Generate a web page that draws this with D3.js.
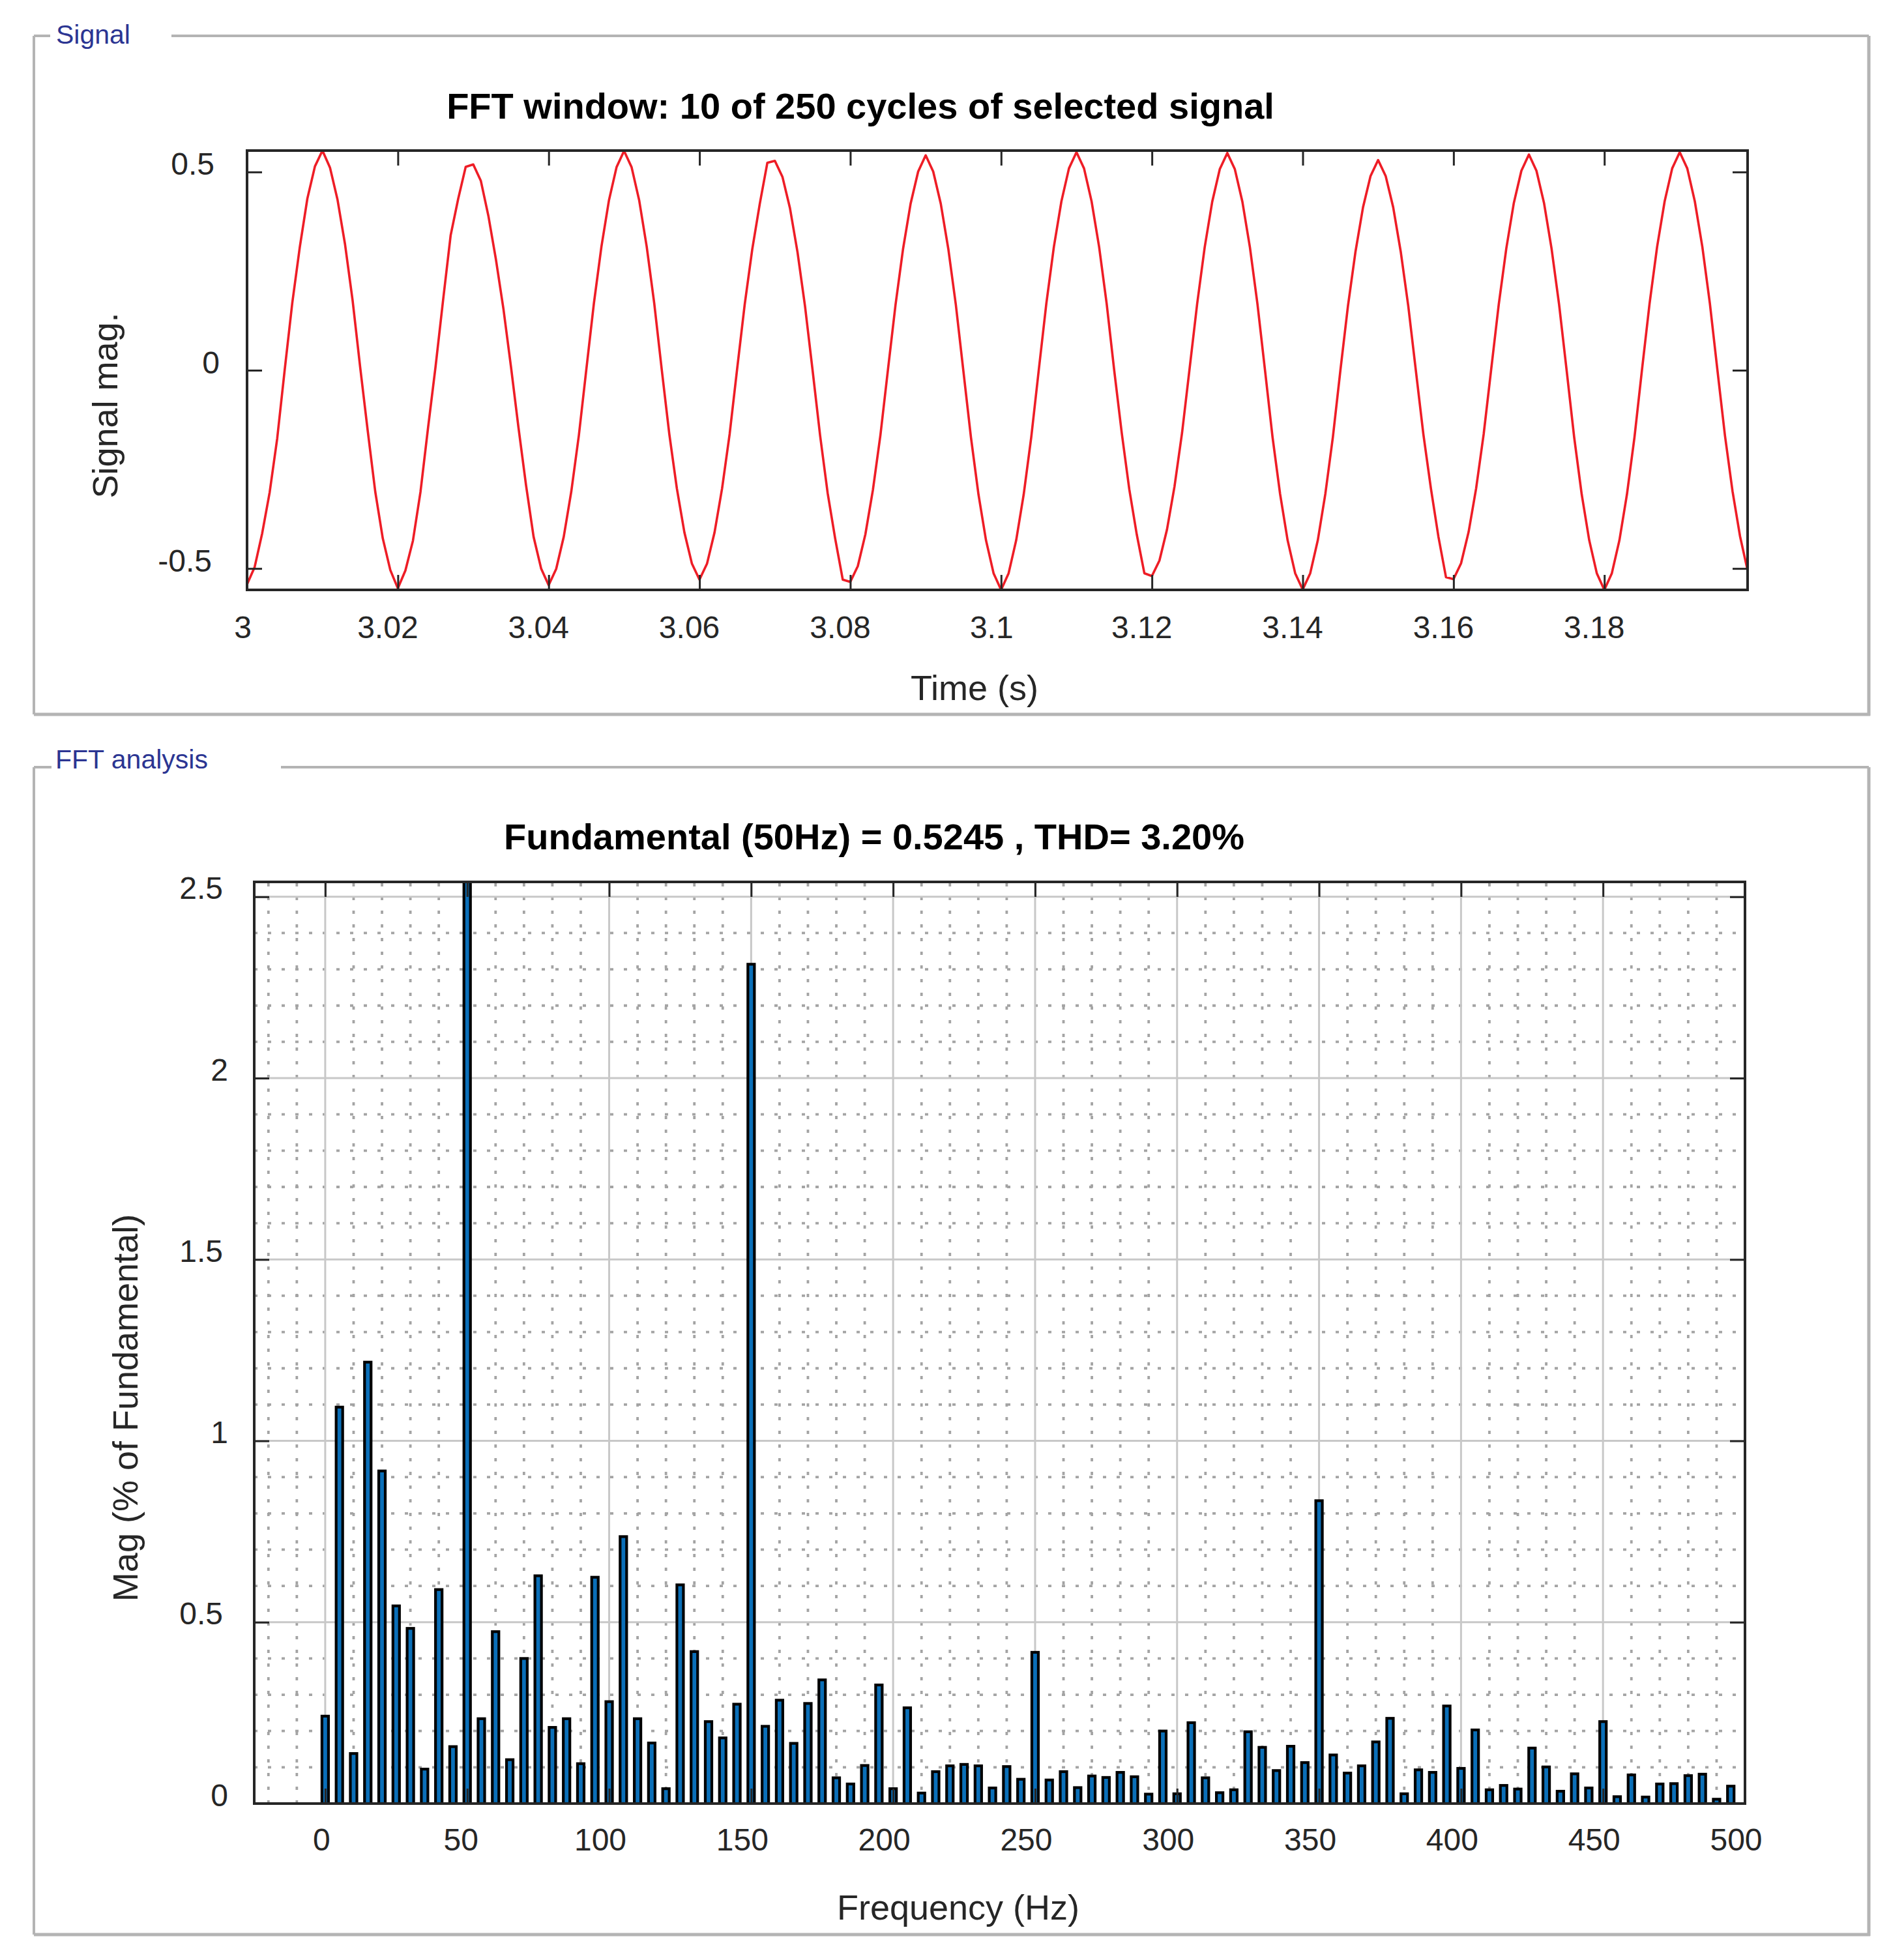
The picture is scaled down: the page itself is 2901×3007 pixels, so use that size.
<!DOCTYPE html>
<html><head><meta charset="utf-8">
<script src="https://cdn.jsdelivr.net/npm/d3@7"></script>
<style>
html,body{margin:0;padding:0;background:#fff;}
svg{display:block;}
text{font-family:"Liberation Sans",Arial,Helvetica,sans-serif;}
</style>
</head><body>
<svg id="chart" width="2901" height="3007"></svg>
<script>
// ---------------- DATA ----------------
const signalStartTime = 3.0;     // s
const signalSampleStep = 0.001;  // s (1 kHz sampling)
const signalValues = [
 -0.540,-0.497,-0.412,-0.308,-0.172, 0.002, 0.170, 0.311, 0.433, 0.514,
  0.554, 0.511, 0.430, 0.317, 0.176, 0.008,-0.152,-0.306,-0.424,-0.504,
 -0.550,-0.505,-0.430,-0.307,-0.146, 0.009, 0.177, 0.340, 0.432, 0.513,
  0.519, 0.478, 0.390, 0.280, 0.155, 0.009,-0.145,-0.290,-0.420,-0.500,
 -0.542,-0.501,-0.420,-0.306,-0.165, 0.003, 0.169, 0.312, 0.429, 0.512,
  0.553, 0.512, 0.429, 0.312, 0.169, 0.001,-0.161,-0.298,-0.409,-0.488,
 -0.528,-0.488,-0.409,-0.298,-0.161, 0.004, 0.166, 0.305, 0.420, 0.523,
  0.528, 0.488, 0.409, 0.298, 0.161, 0.000,-0.165,-0.310,-0.425,-0.528,
 -0.534,-0.494,-0.414,-0.302,-0.163, 0.002, 0.165, 0.306, 0.420, 0.501,
  0.542, 0.501, 0.420, 0.306, 0.165,-0.002,-0.169,-0.313,-0.429,-0.512,
 -0.554,-0.512,-0.429,-0.313,-0.169, 0.001, 0.168, 0.311, 0.426, 0.509,
  0.550, 0.509, 0.426, 0.311, 0.168, 0.000,-0.158,-0.300,-0.415,-0.512,
 -0.519,-0.480,-0.402,-0.293,-0.158, 0.004, 0.167, 0.310, 0.425, 0.507,
  0.548, 0.507, 0.425, 0.310, 0.167, 0.000,-0.169,-0.312,-0.429,-0.512,
 -0.553,-0.512,-0.429,-0.312,-0.169, 0.000, 0.162, 0.299, 0.411, 0.490,
  0.530, 0.490, 0.411, 0.299, 0.162, 0.000,-0.161,-0.298,-0.420,-0.522,
 -0.527,-0.487,-0.408,-0.298,-0.161, 0.003, 0.166, 0.307, 0.422, 0.503,
  0.544, 0.503, 0.422, 0.307, 0.166, 0.000,-0.169,-0.313,-0.429,-0.512,
 -0.554,-0.512,-0.429,-0.313,-0.169, 0.002, 0.168, 0.311, 0.426, 0.509,
  0.550, 0.509, 0.426, 0.311, 0.168, 0.000,-0.165,-0.305,-0.419,-0.505
];
const signalYLimit = [-0.554, 0.554];
const timeTicks = [3, 3.02, 3.04, 3.06, 3.08, 3.1, 3.12, 3.14, 3.16, 3.18];
const timeTickLabels = ["3","3.02","3.04","3.06","3.08","3.1","3.12","3.14","3.16","3.18"];
const signalTicks = [-0.5, 0, 0.5];
const signalTickLabels = ["-0.5","0","0.5"];

const harmonicFreqs = [
   0,  5, 10, 15, 20, 25, 30, 35, 40, 45, 50, 55, 60, 65, 70, 75, 80, 85, 90, 95,
 100,105,110,115,120,125,130,135,140,145,150,155,160,165,170,175,180,185,190,195,
 200,205,210,215,220,225,230,235,240,245,250,255,260,265,270,275,280,285,290,295,
 300,305,310,315,320,325,330,335,340,345,350,355,360,365,370,375,380,385,390,395,
 400,405,410,415,420,425,430,435,440,445,450,455,460,465,470,475,480,485,490,495
];
const harmonicMags = [ // % of fundamental
 0.241,1.093,0.138,1.217,0.917,0.545,0.483,0.095,0.590,0.157,
 100.0,0.234,0.474,0.121,0.400,0.628,0.210,0.234,0.110,0.624,
 0.281,0.736,0.234,0.167,0.041,0.603,0.419,0.226,0.181,0.274,
 2.314,0.213,0.285,0.166,0.276,0.341,0.071,0.054,0.105,0.327,
 0.041,0.264,0.029,0.088,0.104,0.108,0.104,0.043,0.102,0.067,
 0.417,0.065,0.088,0.044,0.076,0.072,0.086,0.074,0.026,0.200,
 0.027,0.223,0.071,0.030,0.038,0.198,0.155,0.091,0.158,0.113,
 0.835,0.134,0.084,0.104,0.170,0.235,0.027,0.093,0.086,0.269,
 0.097,0.203,0.038,0.050,0.040,0.153,0.101,0.034,0.082,0.043,
 0.226,0.019,0.079,0.018,0.054,0.055,0.077,0.081,0.012,0.048
];
const freqLimit = [-25, 500];
const magLimit = [0, 2.541];
const freqTicks = [0,50,100,150,200,250,300,350,400,450,500];
const freqTickLabels = ["0","50","100","150","200","250","300","350","400","450","500"];
const magTicks = [0,0.5,1,1.5,2,2.5];
const magTickLabels = ["0","0.5","1","1.5","2","2.5"];

const signalPanelLabel = "Signal";
const fftPanelLabel = "FFT analysis";
const signalTitle = "FFT window: 10 of 250 cycles of selected signal";
const fftTitle = "Fundamental (50Hz) = 0.5245 , THD= 3.20%";
const timeLabel = "Time (s)";
const signalYLabel = "Signal mag.";
const freqLabel = "Frequency (Hz)";
const magYLabel = "Mag (% of Fundamental)";

// ---------------- STYLE ----------------
const AX = "#262626";
const BORDER = "#b4b4b4";
const PANEL_TXT = "#2b3592";
const FONT = '"Liberation Sans",Arial,Helvetica,sans-serif';

const svg = d3.select("#chart");
svg.append("rect").attr("width",2901).attr("height",3007).attr("fill","#fff");

function panel(x0,y0,x1,y1,label,lx,lbase,gap0,gap1){
  const g = svg.append("g").attr("stroke",BORDER).attr("fill","none");
  g.append("line").attr("x1",x0).attr("x2",gap0).attr("y1",y0).attr("y2",y0).attr("stroke-width",4);
  g.append("line").attr("x1",gap1).attr("x2",x1).attr("y1",y0).attr("y2",y0).attr("stroke-width",4);
  g.append("line").attr("x1",x0).attr("x2",x0).attr("y1",y0).attr("y2",y1).attr("stroke-width",4);
  g.append("line").attr("x1",x1).attr("x2",x1).attr("y1",y0).attr("y2",y1+2).attr("stroke-width",5);
  g.append("line").attr("x1",x0).attr("x2",x1+2).attr("y1",y1).attr("y2",y1).attr("stroke-width",5);
  svg.append("text").attr("x",lx).attr("y",lbase).attr("font-size",41)
    .attr("fill",PANEL_TXT).text(label);
}
panel(52,55,2867,1096,signalPanelLabel,86,67,77,263);
panel(52,1177,2867,2968,fftPanelLabel,85,1179,79,431);

function styleAxis(g){
  g.attr("font-family",FONT).attr("font-size",48);
  g.select(".domain").remove();
  g.selectAll(".tick line").attr("stroke",AX).attr("stroke-width",3);
}

// ---------------- SIGNAL PLOT ----------------
{
  const L=379,R=2681,T=231,B=905;
  const times = signalValues.map((v,i)=>signalStartTime + i*signalSampleStep);
  const x = d3.scaleLinear().domain([times[0], times[times.length-1]]).range([L,R]);
  const y = d3.scaleLinear().domain(signalYLimit).range([B,T]);

  svg.append("path").datum(signalValues)
    .attr("fill","none").attr("stroke","#ee1d26").attr("stroke-width",3.6)
    .attr("stroke-linejoin","round")
    .attr("d", d3.line().x((d,i)=>x(times[i])).y(d=>y(d)));

  const gb = svg.append("g").attr("transform",`translate(0,${B})`)
    .call(d3.axisBottom(x).tickValues(timeTicks).tickSizeInner(-23).tickSizeOuter(0)
      .tickFormat((d,i)=>timeTickLabels[i]));
  styleAxis(gb);
  gb.selectAll(".tick text").attr("y",74).attr("dy",null).attr("fill",AX)
    .attr("dx",(d,i)=>-Math.min(16, 3+4*timeTickLabels[i].length));
  const gt = svg.append("g").attr("transform",`translate(0,${T})`)
    .call(d3.axisTop(x).tickValues(timeTicks).tickSizeInner(-23).tickSizeOuter(0).tickFormat(""));
  styleAxis(gt);
  const gl = svg.append("g").attr("transform",`translate(${L},0)`)
    .call(d3.axisLeft(y).tickValues(signalTicks).tickSizeInner(-23).tickSizeOuter(0)
      .tickFormat((d,i)=>signalTickLabels[i]));
  styleAxis(gl);
  gl.selectAll(".tick text").attr("dy",null).attr("y",4).attr("fill",AX)
    .attr("x",(d,i)=>-(42+4*(signalTickLabels[i].length-1)));
  const gr = svg.append("g").attr("transform",`translate(${R},0)`)
    .call(d3.axisRight(y).tickValues(signalTicks).tickSizeInner(-23).tickSizeOuter(0).tickFormat(""));
  styleAxis(gr);

  svg.append("rect").attr("x",L).attr("y",T).attr("width",R-L).attr("height",B-T)
    .attr("fill","none").attr("stroke",AX).attr("stroke-width",4);

  svg.append("text").attr("x",1320).attr("y",182).attr("text-anchor","middle")
    .attr("font-size",56).attr("font-weight","bold").attr("fill","#000").text(signalTitle);
  svg.append("text").attr("x",1495).attr("y",1074).attr("text-anchor","middle")
    .attr("font-size",54).attr("fill",AX).text(timeLabel);
  svg.append("text").attr("transform","translate(180,622) rotate(-90)").attr("text-anchor","middle")
    .attr("font-size",54).attr("fill",AX).text(signalYLabel);
}

// ---------------- FFT PLOT ----------------
{
  const L=390,R=2677,T=1353,B=2767;
  const x = d3.scaleLinear().domain(freqLimit).range([L,R]);
  const y = d3.scaleLinear().domain(magLimit).range([B,T]);

  svg.append("clipPath").attr("id","fftclip").append("rect")
    .attr("x",L).attr("y",T).attr("width",R-L).attr("height",B-T);

  const grid = svg.append("g");
  const minorX = d3.range(-20, 500, 10).filter(v=>v%50!==0);
  const minorY = d3.range(1, 26).map(v=>v/10).filter(v=>Math.abs(v*2-Math.round(v*2))>1e-6 && v<magLimit[1]);
  grid.selectAll(".mx").data(minorX).join("line")
    .attr("x1",d=>x(d)).attr("x2",d=>x(d)).attr("y1",B).attr("y2",T)
    .attr("stroke","#a4a4a4").attr("stroke-width",3.8).attr("stroke-dasharray","5,16");
  grid.selectAll(".my").data(minorY).join("line")
    .attr("x1",L).attr("x2",R).attr("y1",d=>y(d)).attr("y2",d=>y(d))
    .attr("stroke","#a4a4a4").attr("stroke-width",3.8).attr("stroke-dasharray","5,16");
  grid.selectAll(".Mx").data(freqTicks.filter(v=>v>freqLimit[0]&&v<freqLimit[1])).join("line")
    .attr("x1",d=>x(d)).attr("x2",d=>x(d)).attr("y1",B).attr("y2",T)
    .attr("stroke","#c8c8c8").attr("stroke-width",3);
  grid.selectAll(".My").data(magTicks.filter(v=>v>0)).join("line")
    .attr("x1",L).attr("x2",R).attr("y1",d=>y(d)).attr("y2",d=>y(d))
    .attr("stroke","#c8c8c8").attr("stroke-width",3);

  const barW = x(2.3) - x(0);
  svg.append("g").attr("clip-path","url(#fftclip)")
    .selectAll("rect").data(harmonicFreqs).join("rect")
    .attr("x",d=>x(d)-barW/2).attr("width",barW)
    .attr("y",(d,i)=>y(harmonicMags[i])).attr("height",(d,i)=>y(0)-y(harmonicMags[i]))
    .attr("fill","#0b6fb8").attr("stroke","#000").attr("stroke-width",4.2);

  const gb = svg.append("g").attr("transform",`translate(0,${B})`)
    .call(d3.axisBottom(x).tickValues(freqTicks).tickSizeInner(-23).tickSizeOuter(0)
      .tickFormat((d,i)=>freqTickLabels[i]));
  styleAxis(gb);
  gb.selectAll(".tick text").attr("y",72).attr("dy",null).attr("fill",AX)
    .attr("dx",(d,i)=>-(2+4*freqTickLabels[i].length));
  const gt = svg.append("g").attr("transform",`translate(0,${T})`)
    .call(d3.axisTop(x).tickValues(freqTicks).tickSizeInner(-23).tickSizeOuter(0).tickFormat(""));
  styleAxis(gt);
  const gl = svg.append("g").attr("transform",`translate(${L},0)`)
    .call(d3.axisLeft(y).tickValues(magTicks).tickSizeInner(-23).tickSizeOuter(0)
      .tickFormat((d,i)=>magTickLabels[i]));
  styleAxis(gl);
  gl.selectAll(".tick text").attr("dy",null).attr("y",3).attr("fill",AX)
    .attr("x",(d,i)=>-(40+4*(magTickLabels[i].length-1)));
  const gr = svg.append("g").attr("transform",`translate(${R},0)`)
    .call(d3.axisRight(y).tickValues(magTicks).tickSizeInner(-23).tickSizeOuter(0).tickFormat(""));
  styleAxis(gr);

  svg.append("rect").attr("x",L).attr("y",T).attr("width",R-L).attr("height",B-T)
    .attr("fill","none").attr("stroke",AX).attr("stroke-width",4);

  svg.append("text").attr("x",1341).attr("y",1303).attr("text-anchor","middle")
    .attr("font-size",56).attr("font-weight","bold").attr("fill","#000").text(fftTitle);
  svg.append("text").attr("x",1470).attr("y",2945).attr("text-anchor","middle")
    .attr("font-size",54).attr("fill",AX).text(freqLabel);
  svg.append("text").attr("transform","translate(211,2160) rotate(-90)").attr("text-anchor","middle")
    .attr("font-size",54).attr("fill",AX).text(magYLabel);
}
</script>
</body></html>
